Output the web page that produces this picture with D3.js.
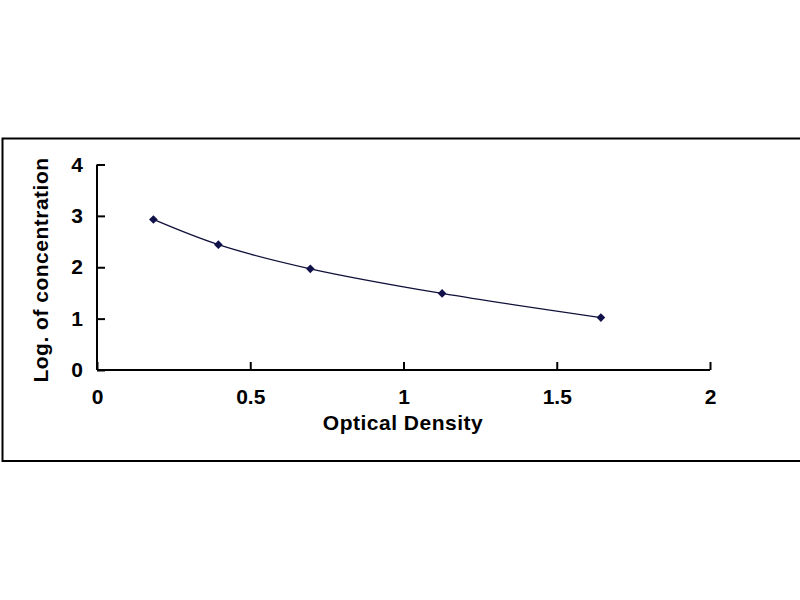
<!DOCTYPE html>
<html>
<head>
<meta charset="utf-8">
<script src="https://cdn.jsdelivr.net/npm/d3@7"></script>
<style>
  body { margin: 0; background: #fff; }
  text { font-family: Arial, "Liberation Sans", sans-serif; font-weight: bold; fill: #000; }
</style>
</head>
<body>
<svg id="chart" width="800" height="600"></svg>
<script>
const opticalDensity = [0.184, 0.396, 0.696, 1.126, 1.644];
const logConcentration = [2.93, 2.44, 1.97, 1.49, 1.02];
const xTicks = [0, 0.5, 1, 1.5, 2];
const yTicks = [0, 1, 2, 3, 4];

const svg = d3.select("#chart");

// cadre du graphique
svg.append("path")
  .attr("d", "M800,138.5 H2.5 V461 H800")
  .attr("fill", "none")
  .attr("stroke", "#000")
  .attr("stroke-width", 2);

const x = d3.scaleLinear().domain([0, 2]).range([97, 710]);
const y = d3.scaleLinear().domain([0, 4]).range([370, 164.5]);

// axe X
const xAxis = svg.append("g")
  .attr("transform", `translate(0, ${y(0)})`)
  .call(d3.axisBottom(x).tickValues(xTicks).tickSize(-8).tickPadding(19)
    .tickFormat(d => d));
xAxis.select(".domain").attr("stroke-width", 2).attr("d", `M${x(0)},0H${x(2)}`);
xAxis.selectAll(".tick line").attr("stroke-width", 2);
xAxis.selectAll(".tick text").attr("font-size", 21).attr("dy", "0.71em");

// axe Y
const yAxis = svg.append("g")
  .attr("transform", `translate(${x(0)}, 0)`)
  .call(d3.axisLeft(y).tickValues(yTicks).tickSize(-8).tickPadding(14)
    .tickFormat(d => d));
yAxis.select(".domain").attr("stroke-width", 2).attr("d", `M0,${y(0)}V${y(4)}`);
yAxis.selectAll(".tick line").attr("stroke-width", 2);
yAxis.selectAll(".tick text").attr("font-size", 21);

// titres
svg.append("text")
  .attr("x", 403).attr("y", 430)
  .attr("text-anchor", "middle")
  .attr("font-size", 21)
  .attr("letter-spacing", 0.5)
  .text("Optical Density");

svg.append("text")
  .attr("transform", "translate(48, 270) rotate(-90)")
  .attr("text-anchor", "middle")
  .attr("font-size", 21)
  .attr("letter-spacing", 0.5)
  .text("Log. of concentration");

// courbe lissée
const points = opticalDensity.map((d, i) => [d, logConcentration[i]]);

svg.append("path")
  .datum(points)
  .attr("fill", "none")
  .attr("stroke", "#10103a")
  .attr("stroke-width", 1.3)
  .attr("d", d3.line()
    .x(d => x(d[0]))
    .y(d => y(d[1]))
    .curve(d3.curveCatmullRom.alpha(0.5)));

// marqueurs
svg.selectAll(".pt")
  .data(points)
  .join("path")
  .attr("class", "pt")
  .attr("transform", d => `translate(${x(d[0])}, ${y(d[1])})`)
  .attr("d", d3.symbol().type(d3.symbolDiamond2).size(48))
  .attr("fill", "#12124a");
</script>
</body>
</html>
